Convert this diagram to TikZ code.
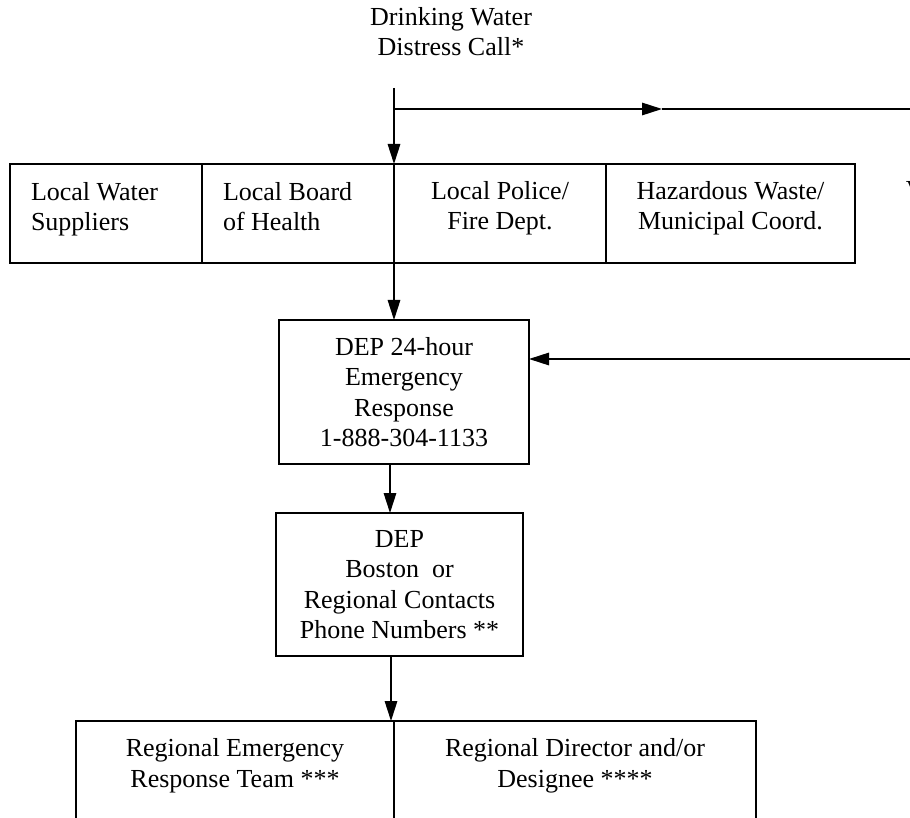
\documentclass[tikz,border=0pt]{standalone}
\usepackage{fontspec}
\setmainfont{Liberation Serif}
\usetikzlibrary{arrows.meta, positioning}

\begin{document}
\begin{tikzpicture}[
  x=1pt, y=-1pt,
  node distance=0pt,
  cell/.style={rectangle, draw, line width=1.6pt, inner sep=0pt, outer sep=0pt, minimum height=99pt, align=center, font=\fontsize{26}{30.5}\selectfont},
  rowcell/.style={cell, execute at begin node={\rule{0pt}{21pt}}, execute at end node={\rule[-16.5pt]{0pt}{0pt}}},
  leftcell/.style={rowcell, align=flush left, text width=150pt, inner xsep=21pt},
  plain/.style={inner sep=0pt, align=center, font=\fontsize{26}{30.5}\selectfont},
  arr/.style={-{Triangle[length=20pt, width=12.5pt]}, line width=1.5pt},
  wire/.style={line width=1.5pt},
]
  \useasboundingbox (0,0) rectangle (910,818);
  \clip (0,0) rectangle (910,818);

  % Incoming call
  \node[plain] (call) at (451,31.5) {Drinking Water\\Distress Call*};
  \coordinate (start) at (394,88);
  \coordinate (branch) at (394,109);
  \coordinate (midtip) at (662,109);
  \coordinate (eastout) at (915,109);
  \coordinate (eastin) at (915,359);

  % Local contacts row
  \node[leftcell, anchor=north west] (water) at (10,164) {Local Water\\Suppliers};
  \node[leftcell, right=of water] (board) {Local Board\\of Health};
  \node[rowcell, minimum width=212pt, right=of board] (police) {Local Police/\\Fire Dept.};
  \node[rowcell, minimum width=249pt, right=of police] (hazard) {Hazardous Waste/\\Municipal Coord.};
  \node[plain, anchor=base west] (cut) at (905.7,199) {V};

  % DEP contacts
  \node[cell, minimum width=250pt, minimum height=144pt] (hotline) at (404,392) {DEP 24-hour\\Emergency\\Response\\1-888-304-1133};
  \node[cell, minimum width=247pt, minimum height=143pt] (contacts) at (399.5,584.5) {DEP\\Boston\ \ or\\Regional Contacts\\Phone Numbers **};

  % Regional response
  \node[rowcell, minimum width=318pt, minimum height=100pt, anchor=north west] (team) at (76,721) {Regional Emergency\\Response Team ***};
  \node[rowcell, minimum width=362pt, minimum height=100pt, right=of team] (director) {Regional Director and/or\\Designee ****};

  % Arrows
  \draw[arr] (start) -- (board.north east);
  \draw[arr] (branch) -- (midtip);
  \draw[wire] (midtip) -- (eastout);
  \draw[arr] (board.south east) -- (board.south east |- hotline.north);
  \draw[arr] (eastin) -- (hotline.east |- eastin);
  \draw[arr] ([xshift=-14pt]hotline.south) -- ([xshift=-14pt]hotline.south |- contacts.north);
  \draw[arr] ([xshift=-8.5pt]contacts.south) -- ([xshift=-8.5pt]contacts.south |- team.north);

\end{tikzpicture}
\end{document}
